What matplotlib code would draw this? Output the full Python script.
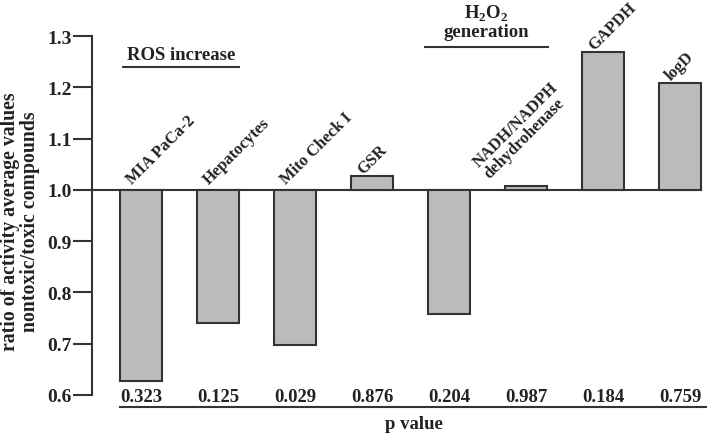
import numpy as np
import matplotlib
matplotlib.use('Agg')
import matplotlib.pyplot as plt

plt.rcParams['font.family'] = 'Liberation Serif'
plt.rcParams['font.weight'] = 'bold'
plt.rcParams['mathtext.fontset'] = 'custom'
plt.rcParams['mathtext.rm'] = 'Liberation Serif:bold'
plt.rcParams['mathtext.bf'] = 'Liberation Serif:bold'

# Data
labels = ['MIA PaCa-2', 'Hepatocytes', 'Mito Check I', 'GSR', '',
          'NADH/NADPH\ndehydrohenase', 'GAPDH', 'logD']
ratios = [0.627, 0.740, 0.698, 1.027, 0.757, 1.008, 1.268, 1.209]
pvalues = ['0.323', '0.125', '0.029', '0.876', '0.204', '0.987', '0.184', '0.759']
yticks = [0.6, 0.7, 0.8, 0.9, 1.0, 1.1, 1.2, 1.3]

txt = '#222222'
edge = '#333333'
w = 0.55
x = np.arange(len(ratios))

fig = plt.figure(figsize=(7.07, 4.35), dpi=100)
ax = fig.add_axes([92/707, 39/435, 615/707, 359/435])

vals = np.array(ratios)
ax.bar(x, vals - 1.0, bottom=1.0, width=w, color='#bbbbbb',
       edgecolor=edge, linewidth=1.5, zorder=2)

# baseline at 1.0
ax.plot([-0.65, x[-1] + w/2], [1.0, 1.0], color=edge, lw=1.5, zorder=1,
        clip_on=False)

ax.set_xlim(-0.636, 7.35)
ax.set_ylim(0.6, 1.3)

for s in ['top', 'right', 'bottom']:
    ax.spines[s].set_visible(False)
ax.spines['left'].set_color(edge)
ax.spines['left'].set_linewidth(1.5)
ax.set_xticks([])
ax.set_yticks(yticks)
ax.set_yticklabels(['%.1f' % v for v in yticks], fontsize=14, color=txt,
                   fontweight='bold')
ax.tick_params(axis='y', direction='out', length=13.7, width=1.5,
               color=edge, pad=1)

# category labels above bars
for xi, v, lab in zip(x, vals, labels):
    if not lab:
        continue
    y0 = 1.011 if v < 1 else v + 0.004
    dx = -0.12
    if '\n' in lab:
        dx = -0.47
        y0 = 1.022
    ax.text(xi + dx, y0, lab, rotation=45, rotation_mode='anchor',
            ha='left', va='baseline', fontsize=12, color=txt,
            fontweight='bold', linespacing=1.0)

# p values
for xi, p in zip(x, pvalues):
    ax.text(xi, 0.598, p, ha='center', va='center', fontsize=13.5,
            color=txt, fontweight='bold', clip_on=False)
ax.plot([x[0] - w/2, 7.35], [0.577, 0.577], color=edge, lw=1.5,
        clip_on=False)
ax.text(3.55, 0.544, 'p value', ha='center', va='center', fontsize=13.5,
        color=txt, fontweight='bold', clip_on=False)

# group annotations
ax.text(0.52, 1.264, 'ROS increase', ha='center', va='center', fontsize=13.5,
        color=txt, fontweight='bold')
ax.plot([-0.234, 1.27], [1.239, 1.239], color=edge, lw=1.5, clip_on=False)

ax.text(4.49, 1.346, r'H$_\mathbf{2}$O$_\mathbf{2}$', ha='center', va='center',
        fontsize=13.5, color=txt, fontweight='bold', clip_on=False)
ax.text(4.49, 1.309, 'generation', ha='center', va='center', fontsize=13.5,
        color=txt, fontweight='bold', clip_on=False)
ax.plot([3.69, 5.29], [1.278, 1.278], color=edge, lw=1.5, clip_on=False)

fig.text(20/707, 1 - 222/435,
         'ratio of activity average values\nnontoxic/toxic compounds',
         rotation=90, ha='center', va='center', fontsize=14.2, color=txt,
         fontweight='bold', multialignment='center', linespacing=1.0)

fig.savefig('out.png', dpi=100)
